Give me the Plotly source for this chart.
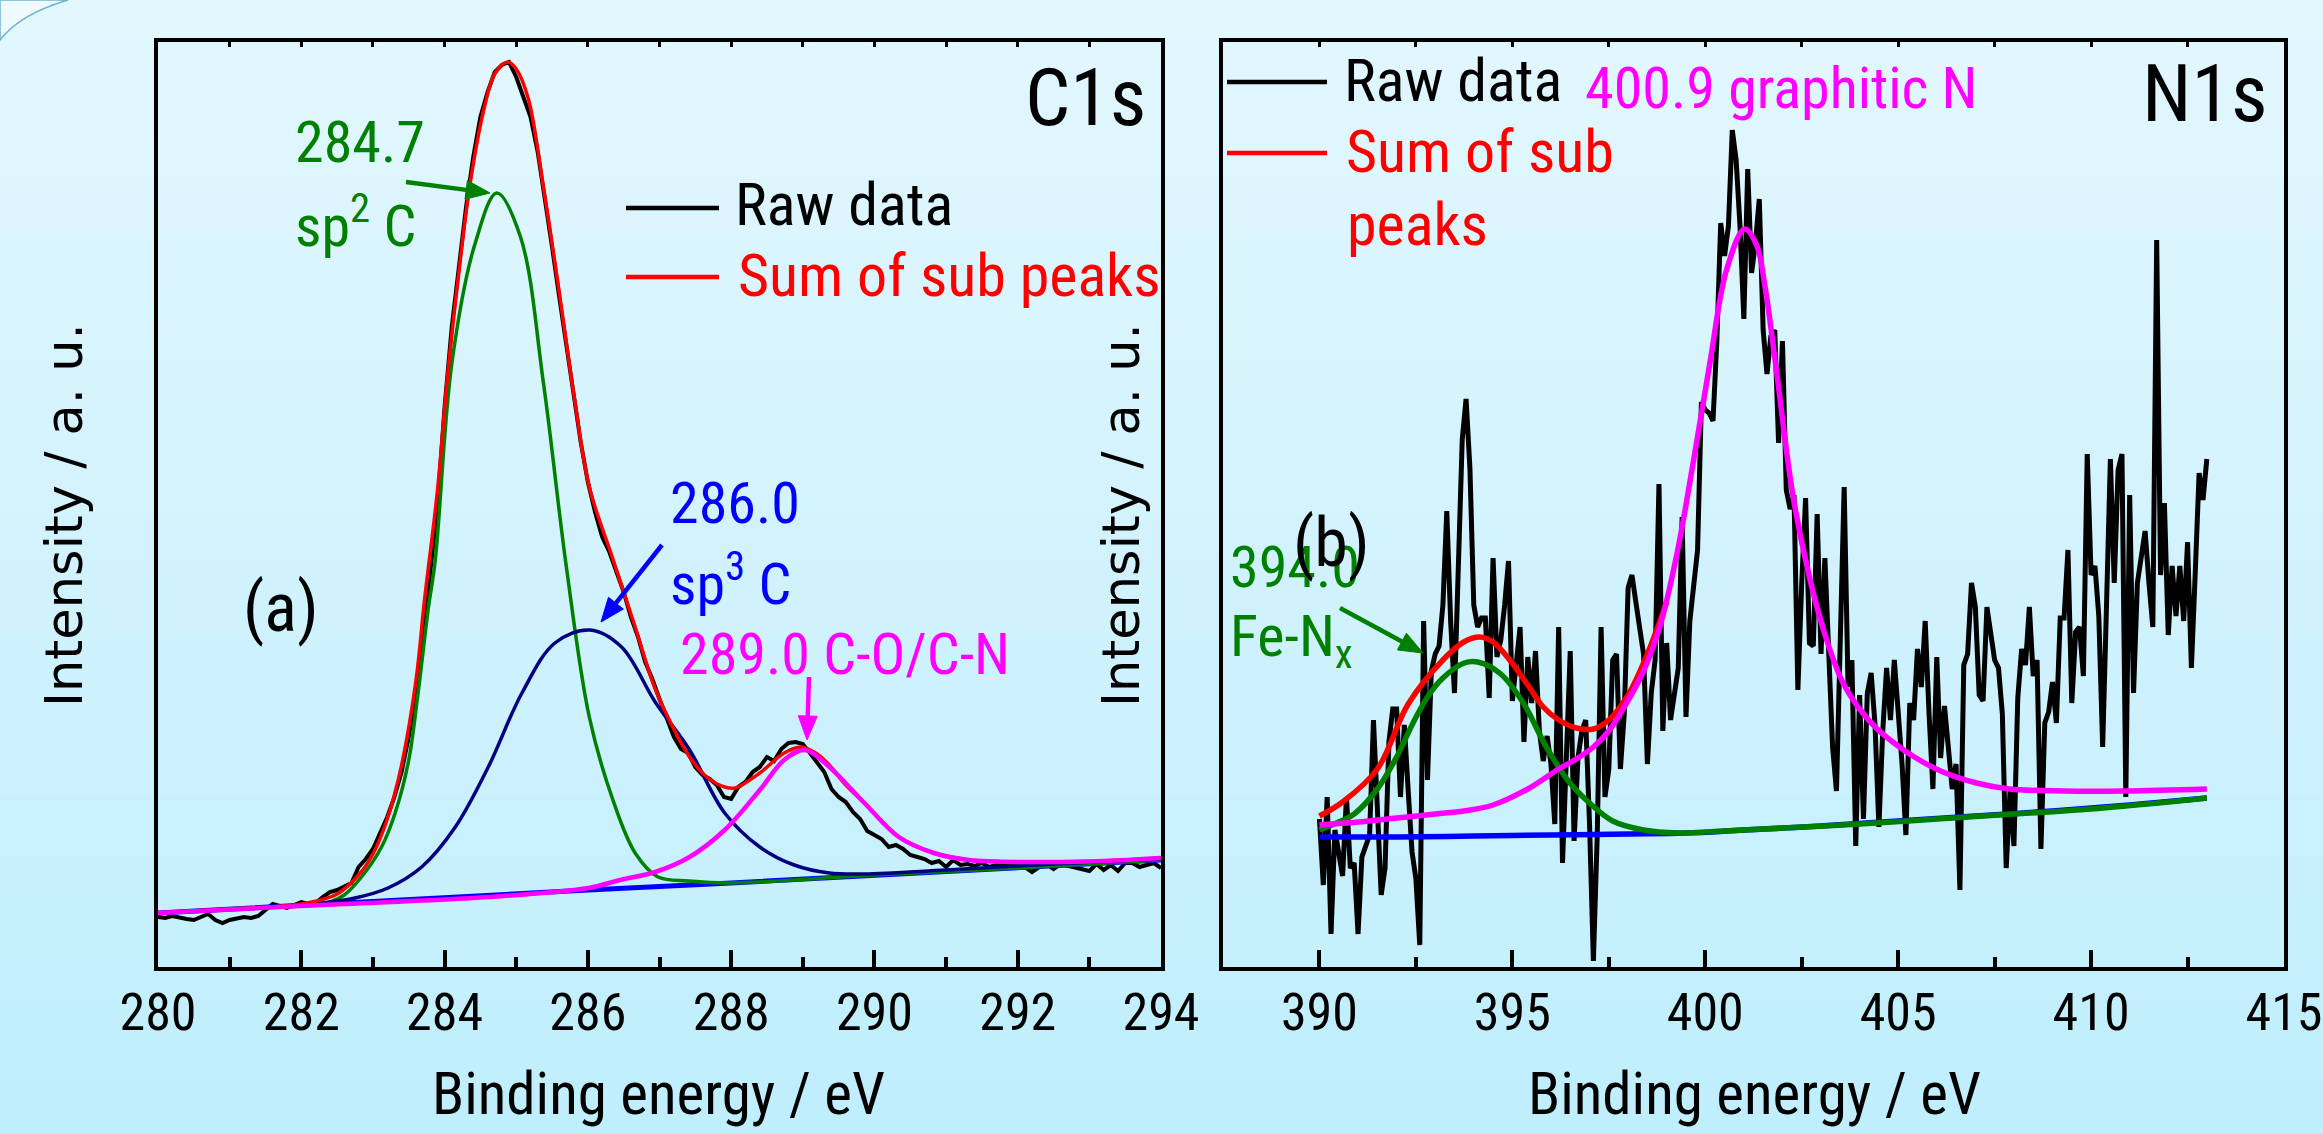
import numpy as np
import plotly.graph_objects as go

W, H = 2323, 1134

# ---------------- Data: panel (a) C1s ----------------
C1S_RAW_E_START, C1S_RAW_E_STEP = 280.0, 0.1
C1S_RAW_Y = [
    50, 49, 51, 49, 48, 47, 50, 53, 47, 44,
    47, 48, 50, 49, 51, 57, 63, 61, 59, 62,
    65, 63, 64, 70, 75, 77, 80, 84, 100, 108,
    118, 135, 150, 170, 195, 230, 275, 330, 395, 460,
    560, 640, 700, 760, 810, 850, 875, 895, 902, 905,
    890, 870, 850, 815, 770, 720, 670, 620, 575, 525,
    485, 455, 430, 415, 395, 375, 350, 330, 305, 288,
    268, 248, 230, 218, 214, 200, 192, 188, 182, 170,
    168, 180, 185, 195, 200, 210, 206, 218, 224, 225,
    223, 214, 205, 195, 178, 170, 165, 155, 148, 136,
    132, 128, 120, 122, 118, 112, 110, 108, 104, 106,
    100, 107, 102, 103, 101, 104, 100, 102, 101, 104,
    103, 100, 95, 100, 103, 98, 103, 101, 100, 98,
    96, 103, 97, 102, 96, 104, 104, 100, 102, 104,
    99,
]
C1S_BASE_E = [280, 282, 284, 286, 288, 290, 292, 294]
C1S_BASE_Y = [54, 62, 69, 77, 84, 92, 99, 107]

C1S_SP2_E = [280, 281, 282, 282.4, 282.6, 282.84, 283.12, 283.31, 283.5, 283.63, 283.77,
             283.87, 284.1, 284.42, 284.73, 285.06, 285.38, 285.7, 286.02, 286.34, 286.66,
             286.98, 287.41, 288, 290, 292, 294]
C1S_SP2_Y = [54, 58, 62, 65, 72, 90, 120, 154, 207, 274, 357,
             407, 603, 722, 774, 730, 584, 400, 250, 169, 114,
             90, 86, 84, 92, 99, 107]

C1S_SP3_E = [280, 281.35, 282.28, 282.75, 283.21, 283.68, 284.15, 284.61, 285.08, 285.54,
             286.03, 286.47, 286.94, 287.42, 287.91, 288.40, 288.88, 289.37, 289.86, 291,
             292.5, 294]
C1S_SP3_Y = [54, 59, 64, 69, 79, 100, 140, 200, 274, 324,
             337, 320, 265, 217, 154, 120, 102, 94, 93, 97,
             103, 108]

C1S_CO_E = [280, 282.28, 284.61, 286.01, 286.45, 286.94, 287.42, 287.91, 288.40, 288.74,
            289.03, 289.37, 289.86, 290.34, 290.83, 291.32, 292.29, 293.2, 294]
C1S_CO_Y = [54, 62, 70, 79, 87, 95, 110, 137, 177, 207,
            217, 200, 164, 130, 114, 107, 105, 106, 109]

C1S_SUM_E = [280, 281, 282, 282.5, 282.8, 283.0, 283.2, 283.4, 283.6, 283.72, 283.9, 284.04,
             284.2, 284.36, 284.55, 284.7, 284.88, 285.0, 285.17, 285.38, 285.59, 285.81,
             286.02, 286.34, 286.66, 286.94, 287.2, 287.42, 287.66, 287.91, 288.06, 288.4,
             288.74, 288.98, 289.2, 289.37, 289.6, 289.86, 290.34, 290.83, 291.32, 292.29,
             293.2, 294]
C1S_SUM_Y = [54, 58, 63, 73, 92, 113, 148, 202, 286, 367, 476, 590,
             695, 785, 858, 893, 905, 898, 868, 780, 680, 570,
             480, 410, 340, 278, 238, 210, 190, 180, 179, 194,
             214, 220, 213, 202, 182, 164, 130, 114, 107, 105,
             106, 109]

# ---------------- Data: panel (b) N1s ----------------
N1S_RAW_E_START, N1S_RAW_E_STEP = 390.0, 0.1
N1S_RAW_Y = [
    148, 82, 170, 33, 137, 110, 91, 170, 99, 104, 33, 110, 121, 132, 247, 165, 72, 99, 225, 258,
    258, 170, 242, 176, 115, 88, 22, 346, 187, 296, 313, 321, 362, 456, 346, 274, 390, 527,
    568, 499, 362, 340, 349, 349, 269, 409, 310, 327, 362, 406, 266, 307, 340, 225, 310, 264,
    316, 236, 206, 231, 203, 143, 340, 104, 225, 316, 126, 209, 236, 247, 143, 6, 132, 340,
    170, 198, 307,
    313, 198, 253, 379, 392, 365, 335, 313, 203, 274, 307, 483, 236, 324, 247, 274, 299, 450,
    250, 346, 384, 417, 565, 557, 554, 546, 626, 744, 711, 741, 837, 807, 741, 648, 798, 694,
    724, 768, 637,
    593, 631, 637, 524, 626, 477, 458, 472, 277, 384, 469, 324, 321, 453, 313, 409, 307, 220,
    176, 329, 480, 280, 307, 121, 272, 148, 274, 294, 242, 140, 236, 299, 247, 307, 258, 203,
    132, 264, 247,
    318, 280, 346, 253, 178, 310, 209, 261, 214, 178, 203, 77, 302, 313, 384, 360, 272, 266,
    360, 329, 307, 299, 253, 99, 176, 121, 269, 318, 302, 360, 291, 307, 118, 244, 255, 285,
    244, 349, 349,
    417, 264, 335, 340, 291, 513, 392, 401, 351, 220, 362, 508, 384, 497, 513, 170, 472, 274,
    384, 412, 436, 384, 340, 727, 392, 464, 332, 401, 351, 401, 346, 425, 299, 395, 494, 467,
    508,
]
N1S_BASE_E = [390, 392, 394, 396, 398, 399.5, 401, 403, 405, 407, 409, 411, 413]
N1S_BASE_Y = [130, 130, 131, 132, 133, 134, 137, 141, 146, 151, 156, 162, 169]

N1S_FEN_E = [390.0, 390.5, 390.9, 391.5, 392.0, 392.4, 392.8, 393.2, 393.75, 394.1, 394.7,
             395.3, 395.85, 396.45, 397.0, 397.6, 398.4, 399.3, 400.5, 402, 404, 406, 408,
             410, 412, 413]
N1S_FEN_Y = [137, 145, 153, 178, 210, 242, 270, 289, 304, 305, 293,
             263, 222, 186, 164, 146, 137, 134, 136, 139, 143, 148, 153,
             158, 165, 169]

N1S_GRN_E = [390.0, 391.0, 392.0, 393.0, 393.74, 394.5, 395.4, 396.2, 396.66, 397.1, 397.5,
             397.96, 398.39, 398.82, 399.26, 399.69, 400.12, 400.55, 401.02, 401.33, 401.55,
             401.84, 402.27, 402.7, 403.13, 403.56, 404.0, 404.43, 404.86, 405.42, 406.16,
             407.03, 407.89, 409.3, 410.9, 413.0]
N1S_GRN_Y = [142, 145, 149, 153, 156, 162, 178, 198, 208, 220, 236,
             264, 295, 340, 412, 505, 604, 697, 738, 722, 680,
             598, 472, 390, 329, 285, 258, 239, 225, 210, 195,
             184, 178, 176, 176, 178]

N1S_SUM_E = [390.0, 390.6, 391.5, 392.3, 393.2, 393.74, 394.15, 394.5, 394.93, 395.4, 395.8,
             396.2, 396.66, 397.1, 397.5, 398.0, 398.5, 399.0]
N1S_SUM_Y = [151, 165, 198, 263, 307, 325, 330, 325, 307, 282, 260,
             247, 239, 238, 247, 272, 313, 365]

# tick labels
C1S_TICKS = [280, 282, 284, 286, 288, 290, 292, 294]
N1S_TICKS = [390, 395, 400, 405, 410, 415]

c1s_e = np.round(C1S_RAW_E_START + C1S_RAW_E_STEP * np.arange(len(C1S_RAW_Y)), 2)
n1s_e = np.round(N1S_RAW_E_START + N1S_RAW_E_STEP * np.arange(len(N1S_RAW_Y)), 2)

NARROW = "Liberation Sans Narrow, Arial Narrow, Roboto Condensed, Liberation Sans, sans-serif"
WIDE = "DejaVu Sans, Verdana, sans-serif"

GREEN = "#008000"
NAVY = "#000080"
BLUE = "#0000FF"
MAG = "#FF00FF"
RED = "#FF0000"


def PX(x):
    return x / W


def PY(y):
    return 1 - y / H


fig = go.Figure()

# panel a traces
fig.add_trace(go.Scatter(x=c1s_e, y=C1S_RAW_Y, mode="lines", line=dict(color="black", width=4),
                         xaxis="x", yaxis="y", showlegend=False))
fig.add_trace(go.Scatter(x=C1S_BASE_E, y=C1S_BASE_Y, mode="lines", line=dict(color=BLUE, width=5),
                         xaxis="x", yaxis="y", showlegend=False))
fig.add_trace(go.Scatter(x=C1S_SP2_E, y=C1S_SP2_Y, mode="lines", line=dict(color=GREEN, width=3.5, shape="spline"),
                         xaxis="x", yaxis="y", showlegend=False))
fig.add_trace(go.Scatter(x=C1S_SP3_E, y=C1S_SP3_Y, mode="lines", line=dict(color=NAVY, width=3.5, shape="spline"),
                         xaxis="x", yaxis="y", showlegend=False))
fig.add_trace(go.Scatter(x=C1S_SUM_E, y=C1S_SUM_Y, mode="lines", line=dict(color=RED, width=3.5, shape="spline"),
                         xaxis="x", yaxis="y", showlegend=False))
fig.add_trace(go.Scatter(x=C1S_CO_E, y=C1S_CO_Y, mode="lines", line=dict(color=MAG, width=4.5, shape="spline"),
                         xaxis="x", yaxis="y", showlegend=False))

# panel b traces
fig.add_trace(go.Scatter(x=n1s_e, y=N1S_RAW_Y, mode="lines", line=dict(color="black", width=5),
                         xaxis="x2", yaxis="y2", showlegend=False))
fig.add_trace(go.Scatter(x=N1S_BASE_E, y=N1S_BASE_Y, mode="lines", line=dict(color=BLUE, width=5.5, shape="spline"),
                         xaxis="x2", yaxis="y2", showlegend=False))
fig.add_trace(go.Scatter(x=N1S_SUM_E, y=N1S_SUM_Y, mode="lines", line=dict(color=RED, width=5.5, shape="spline"),
                         xaxis="x2", yaxis="y2", showlegend=False))
fig.add_trace(go.Scatter(x=N1S_FEN_E, y=N1S_FEN_Y, mode="lines", line=dict(color=GREEN, width=5.5, shape="spline"),
                         xaxis="x2", yaxis="y2", showlegend=False))
fig.add_trace(go.Scatter(x=N1S_GRN_E, y=N1S_GRN_Y, mode="lines", line=dict(color=MAG, width=5.5, shape="spline"),
                         xaxis="x2", yaxis="y2", showlegend=False))

# carrier traces for top tick axes
fig.add_trace(go.Scatter(x=[None], y=[None], xaxis="x3", yaxis="y", showlegend=False, hoverinfo="skip"))
fig.add_trace(go.Scatter(x=[None], y=[None], xaxis="x4", yaxis="y2", showlegend=False, hoverinfo="skip"))

YDOM = [1 - 967 / H, 1 - 42 / H]
LW = 3.5
common_x = dict(showline=True, linecolor="black", linewidth=LW, mirror=True, showgrid=False,
                zeroline=False, ticks="inside", ticklen=17, tickwidth=LW, tickcolor="black",
                tickfont=dict(family=NARROW, size=52, color="black"), ticklabelstandoff=-3,
                automargin=False)
common_y = dict(showline=True, linecolor="black", linewidth=LW, mirror=True, showgrid=False,
                zeroline=False, ticks="", showticklabels=False, range=[0, 925], domain=YDOM,
                automargin=False)

fig.update_layout(
    width=W, height=H, autosize=False,
    margin=dict(l=0, r=0, t=0, b=0, pad=0),
    paper_bgcolor="#d2f2fc", plot_bgcolor="rgba(0,0,0,0)",
    xaxis=dict(domain=[158 / W, 1161 / W], range=[280, 294], anchor="y",
               tickmode="array", tickvals=C1S_TICKS, ticktext=[str(t) for t in C1S_TICKS],
               minor=dict(ticks="inside", ticklen=10, tickwidth=LW, tickcolor="black", dtick=1, tick0=280),
               **common_x),
    yaxis=dict(anchor="x", **common_y),
    xaxis2=dict(domain=[1223 / W, 2284 / W], range=[387.5, 415], anchor="y2",
                tickmode="array", tickvals=N1S_TICKS, ticktext=[str(t) for t in N1S_TICKS],
                minor=dict(ticks="inside", ticklen=10, tickwidth=LW, tickcolor="black", dtick=2.5, tick0=390),
                **common_x),
    yaxis2=dict(anchor="x2", **common_y),
    xaxis3=dict(overlaying="x", side="top", anchor="y", range=[280, 294], dtick=1, tick0=280,
                ticks="inside", ticklen=5, tickwidth=2.5, tickcolor="black", showticklabels=False,
                showline=False, showgrid=False, zeroline=False),
    xaxis4=dict(overlaying="x2", side="top", anchor="y2", range=[387.5, 415], dtick=2.5, tick0=390,
                ticks="inside", ticklen=5, tickwidth=2.5, tickcolor="black", showticklabels=False,
                showline=False, showgrid=False, zeroline=False),
)

# background gradient
shapes = []
n = 57
top_c = np.array([227, 247, 254])
bot_c = np.array([191, 238, 252])
for i in range(n):
    f = (i + 0.5) / n
    c = top_c * (1 - f) + bot_c * f
    shapes.append(dict(type="rect", xref="paper", yref="paper", x0=0, x1=1,
                       y0=1 - (i + 1) / n - 0.001, y1=1 - i / n,
                       fillcolor="rgb(%d,%d,%d)" % tuple(np.round(c).astype(int)),
                       line=dict(width=0), layer="below"))
# decorative corner arc
shapes.append(dict(type="path", xref="paper", yref="paper", layer="below",
                   path="M 0,%f Q %f,%f %f,1 L 0,1 Z" % (PY(40), PX(20), PY(14), PX(68)),
                   fillcolor="rgb(240,250,254)", line=dict(color="#6ab7cc", width=1.5)))
# legend line samples
for (x0, x1, y, col) in [(626, 719, 208, "black"), (626, 719, 277, RED),
                         (1227, 1327, 82, "black"), (1227, 1327, 153, RED)]:
    shapes.append(dict(type="line", xref="paper", yref="paper", x0=PX(x0), x1=PX(x1),
                       y0=PY(y), y1=PY(y), line=dict(color=col, width=4.5)))


def arrow(hx, hy, tx, ty, color, hl=24, hw=19, lw=4.5):
    """Arrow drawn with a line shape and a filled triangular head (pixel positions)."""
    d = np.array([hx - tx, hy - ty], dtype=float)
    L = np.hypot(*d)
    u = d / L
    nrm = np.array([-u[1], u[0]])
    base = np.array([hx, hy]) - u * hl
    p1 = base + nrm * hw / 2
    p2 = base - nrm * hw / 2
    shapes.append(dict(type="line", xref="paper", yref="paper", x0=PX(tx), y0=PY(ty),
                       x1=PX(base[0]), y1=PY(base[1]), line=dict(color=color, width=lw)))
    shapes.append(dict(type="path", xref="paper", yref="paper",
                       path="M %f,%f L %f,%f L %f,%f Z" % (PX(hx), PY(hy), PX(p1[0]), PY(p1[1]),
                                                          PX(p2[0]), PY(p2[1])),
                       fillcolor=color, line=dict(color=color, width=1)))


arrow(490, 193, 406, 182, GREEN)
arrow(601, 622, 662, 545, BLUE)
arrow(807, 740, 809, 677, MAG)
arrow(1423, 653, 1340, 608, GREEN)

fig.update_layout(shapes=shapes)

ann = []


def txt(x, y, s, color="black", size=58, family=NARROW, xanchor="left", yanchor="middle", angle=0):
    ann.append(dict(x=PX(x), y=PY(y), xref="paper", yref="paper", text=s, showarrow=False,
                    xanchor=xanchor, yanchor=yanchor, textangle=angle,
                    font=dict(family=family, size=size, color=color)))


# panel a texts
txt(1148, 98, "C1s", size=80, xanchor="right")
txt(293, 142, "284.7", GREEN)
txt(293, 222, "sp<sup>2</sup> C", GREEN)
txt(733, 205, "Raw data", "black", 60)
txt(736, 275, "Sum of sub peaks", RED, 60)
txt(668, 503, "286.0", BLUE)
txt(668, 580, "sp<sup>3</sup> C", BLUE)
txt(678, 654, "289.0 C-O/C-N", MAG)
txt(281, 608, "(a)", "black", 68, xanchor="center")

# panel b texts
txt(2270, 94, "N1s", size=80, xanchor="right")
txt(1342, 81, "Raw data", "black", 60)
txt(1344, 151, "Sum of sub", RED, 60)
txt(1345, 225, "peaks", RED, 60)
txt(1583, 88, "400.9 graphitic N", MAG)
txt(1228, 567, "394.0", GREEN)
txt(1228, 640, "Fe-N<sub>x</sub>", GREEN)
txt(1332, 543, "(b)", "black", 68, xanchor="center")

# axis titles
txt(658, 1093, "Binding energy / eV", size=59, xanchor="center")
txt(1754, 1093, "Binding energy / eV", size=59, xanchor="center")
txt(64, 515, "Intensity / a. u.", size=51, family=WIDE, xanchor="center", angle=-90)
txt(1121, 515, "Intensity / a. u.", size=51, family=WIDE, xanchor="center", angle=-90)

fig.update_layout(annotations=ann)

fig.write_html("out.html")
